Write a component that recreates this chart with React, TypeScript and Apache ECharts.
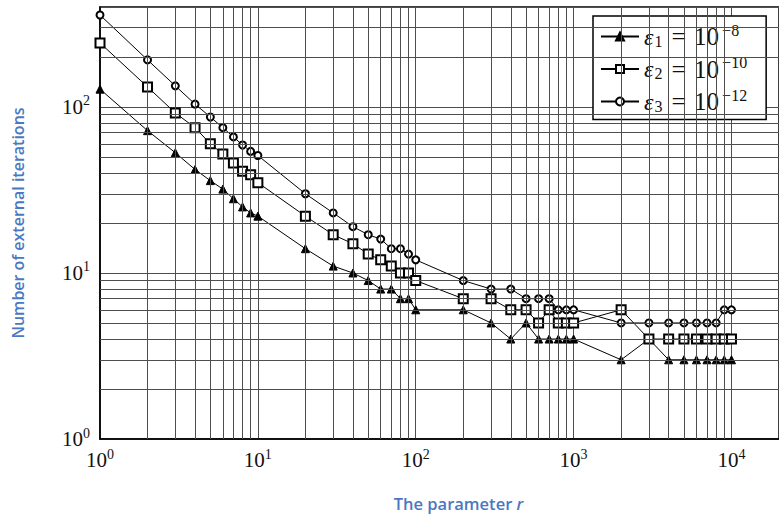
import React, { useEffect, useRef } from "react";
import * as echarts from "echarts";

// r values (x axis)
const rValues = [
  1, 2, 3, 4, 5, 6, 7, 8, 9, 10,
  20, 30, 40, 50, 60, 70, 80, 90, 100,
  200, 300, 400, 500, 600, 700, 800, 900, 1000,
  2000, 3000, 4000, 5000, 6000, 7000, 8000, 9000, 10000,
];
// Number of external iterations
const eps1Iter = [
  128, 72, 53, 42, 36, 32, 28, 25, 23, 22,
  14, 11, 10, 9, 8, 8, 7, 7, 6,
  6, 5, 4, 5, 4, 4, 4, 4, 4,
  3, 4, 3, 3, 3, 3, 3, 3, 3,
];
const eps2Iter = [
  243, 132, 92, 75, 60, 52, 46, 41, 39, 35,
  22, 17, 15, 13, 12, 11, 10, 10, 9,
  7, 7, 6, 6, 5, 6, 5, 5, 5,
  6, 4, 4, 4, 4, 4, 4, 4, 4,
];
const eps3Iter = [
  358, 192, 134, 104, 87, 75, 66, 59, 54, 51,
  30, 23, 19, 17, 16, 14, 14, 13, 12,
  9, 8, 8, 7, 7, 7, 6, 6, 6,
  5, 5, 5, 5, 5, 5, 5, 6, 6,
];
const seriesNames = ["eps1", "eps2", "eps3"];
const legendSub = ["1", "2", "3"];
const legendExp = ["\u22128", "\u221210", "\u221212"];
const seriesSymbols = ["triangle", "emptyRect", "emptyCircle"];
const seriesSymbolSizes = [8, 9, 7];

// minor grid line positions (log axes)
const xMinorGrid = [
  2, 3, 4, 5, 6, 7, 8, 9,
  20, 30, 40, 50, 60, 70, 80, 90,
  200, 300, 400, 500, 600, 700, 800, 900,
  2000, 3000, 4000, 5000, 6000, 7000, 8000, 9000,
];
const yMinorGrid = [
  2, 3, 4, 5, 6, 7, 8, 9,
  20, 30, 40, 50, 60, 70, 80, 90,
  200, 300,
];

const xMin = 1;
const xMax = 20000;
const yMin = 1;
const yMax = 400;

const GRID_COLOR = "#4e4e4e";
const TITLE_COLOR = "#4a78c2";
const SERIF = "'Liberation Serif', 'DejaVu Serif', serif";
const SANS = "'Open Sans', Lato, sans-serif";

const powLabel = (v: number) => {
  const e = Math.round(Math.log10(v));
  if (Math.abs(Math.pow(10, e) - v) > 1e-6 * v) return "";
  return `{b|10}{s|${e}}`;
};

const tickRich = {
  b: { fontSize: 21, fontFamily: SERIF, color: "#111" },
  s: { fontSize: 14, fontFamily: SERIF, color: "#111", padding: [0, 0, 12, 0] },
};

export default function App() {
  const ref = useRef<HTMLDivElement>(null);

  useEffect(() => {
    if (!ref.current) return;
    const chart = echarts.init(ref.current, null, { renderer: "svg" });
    const datasets = [eps1Iter, eps2Iter, eps3Iter];

    const mainSeries = seriesNames.map((name, k) => ({
      name,
      type: "line",
      data: rValues.map((r, i) => [r, datasets[k][i]]),
      symbol: seriesSymbols[k],
      symbolSize: seriesSymbolSizes[k],
      showAllSymbol: true,
      lineStyle: { color: "#000", width: 1 },
      itemStyle: { color: "#000", borderColor: "#000", borderWidth: 1 },
      z: 3,
    }));

    const gridSeries = {
      type: "line",
      data: [],
      silent: true,
      z: 1,
      markLine: {
        silent: true,
        symbol: ["none", "none"],
        label: { show: false },
        lineStyle: { color: GRID_COLOR, width: 1, type: "solid" },
        data: [
          ...xMinorGrid.map((v) => ({ xAxis: v })),
          ...yMinorGrid.map((v) => ({ yAxis: v })),
        ],
      },
    };

    chart.setOption({
      animation: false,
      backgroundColor: "#fff",
      grid: {
        left: 100,
        right: -3,
        top: 7,
        bottom: 80,
        show: true,
        borderColor: "#000",
        borderWidth: 1.5,
        backgroundColor: "transparent",
      },
      legend: {
        data: seriesNames,
        orient: "vertical",
        left: 593,
        top: 16,
        padding: [6, 19, 5, 7],
        itemGap: 5,
        itemWidth: 38,
        itemHeight: 10,
        borderColor: "#000",
        borderWidth: 1.5,
        backgroundColor: "#fff",
        formatter: (name: string) => {
          const idx = seriesNames.indexOf(name);
          return `{e|\u03b5}{sub|${legendSub[idx]}}{eq|=}{t|10}{sup|${legendExp[idx]}}`;
        },
        textStyle: {
          rich: {
            e: { fontSize: 24, fontFamily: SERIF, fontStyle: "italic", color: "#111" },
            sub: { fontSize: 16, fontFamily: SERIF, color: "#111", padding: [9, 0, 0, 1] },
            eq: { fontSize: 26, fontFamily: SERIF, color: "#111", padding: [0, 8, 0, 9] },
            t: { fontSize: 25, fontFamily: SERIF, color: "#111" },
            sup: { fontSize: 16, fontFamily: SERIF, color: "#111", padding: [0, 0, 13, 3] },
          },
        },
      },
      xAxis: {
        type: "log",
        logBase: 10,
        min: xMin,
        max: xMax,
        name: "The parameter {i|r}",
        nameLocation: "middle",
        nameGap: 56,
        nameTextStyle: {
          color: TITLE_COLOR,
          fontFamily: SANS,
          fontWeight: 600,
          fontSize: 16.5,
          padding: [0, 0, 0, 38],
          rich: {
            i: {
              color: TITLE_COLOR,
              fontFamily: SANS,
              fontWeight: 600,
              fontStyle: "italic",
              fontSize: 16.5,
            },
          },
        },
        axisLine: { show: true, lineStyle: { color: "#000", width: 1.5 } },
        axisTick: { show: false },
        axisLabel: {
          margin: 8,
          showMaxLabel: false,
          formatter: powLabel,
          rich: tickRich,
        },
        splitLine: { show: true, lineStyle: { color: GRID_COLOR, width: 1 } },
      },
      yAxis: {
        type: "log",
        logBase: 10,
        min: yMin,
        max: yMax,
        name: "Number of external iterations",
        nameLocation: "middle",
        nameGap: 74,
        nameTextStyle: {
          color: TITLE_COLOR,
          fontFamily: SANS,
          fontWeight: 600,
          fontSize: 16,
        },
        axisLine: { show: true, lineStyle: { color: "#000", width: 1.5 } },
        axisTick: { show: false },
        axisLabel: {
          margin: 10,
          showMaxLabel: false,
          formatter: powLabel,
          rich: tickRich,
        },
        splitLine: { show: true, lineStyle: { color: GRID_COLOR, width: 1 } },
      },
      series: [gridSeries, ...mainSeries],
    });

    return () => chart.dispose();
  }, []);

  return (
    <div
      ref={ref}
      style={{ position: "fixed", left: 0, top: 0, width: 779, height: 519, background: "#fff" }}
    />
  );
}
